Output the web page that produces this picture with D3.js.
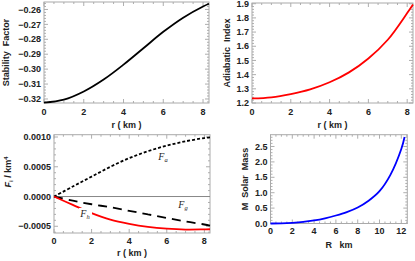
<!DOCTYPE html>
<html>
<head>
<meta charset="utf-8">
<script src="https://cdn.jsdelivr.net/npm/d3@7"></script>
<style>
  body { margin: 0; background: #fff; }
  svg text { font-family: "Liberation Sans", Arial, sans-serif; font-weight: bold; fill: #222; }
  .frame { fill: none; stroke: #aaa; stroke-width: 1; }
  .tick { stroke: #999; stroke-width: 0.8; }
</style>
</head>
<body>
<svg id="chart" width="415" height="261"></svg>
<script>
// Data
var rStab    = [0, 1, 2, 3, 4, 5, 6, 7, 8, 8.3];
var stab     = [-0.3225, -0.3205, -0.3150, -0.3070, -0.2970, -0.2860, -0.2750, -0.2655, -0.2580, -0.2562];

var rAdi     = [0, 1, 2, 3, 4, 5, 6, 7, 8, 8.3];
var adiabatic = [1.232, 1.24, 1.263, 1.296, 1.346, 1.416, 1.514, 1.646, 1.834, 1.895];

var rForce   = [0, 1, 2, 3, 4, 5, 6, 7, 8, 8.3];
var forceA   = [0, 0.000168, 0.000335, 0.0005, 0.000645, 0.000762, 0.000855, 0.000928, 0.000983, 0.000995];
var forceG   = [0, -0.00007, -0.00013, -0.00018, -0.00024, -0.0003, -0.00036, -0.00042, -0.00047, -0.00049];
var forceH   = [0, -0.00014, -0.00028, -0.00039, -0.00046, -0.00051, -0.00054, -0.000555, -0.000552, -0.00055];

var radius   = [0, 1, 2, 3, 4, 5, 6, 7, 8, 9, 10, 11, 12, 12.3];
var mass     = [0, 0.003, 0.02, 0.05, 0.1, 0.17, 0.26, 0.37, 0.52, 0.74, 1.05, 1.58, 2.42, 2.81];

var svg = d3.select("#chart");

function panel(opt) {
  var x = d3.scaleLinear().domain(opt.xDomain).range(opt.xRange);
  var y = d3.scaleLinear().domain(opt.yDomain).range(opt.yRange);
  var g = svg.append("g");

  // ticks on all four sides, pointing inward
  var x0 = opt.xRange[0], x1 = opt.xRange[1], y0 = opt.yRange[0], y1 = opt.yRange[1];
  d3.range(opt.xDomain[0], opt.xDomain[1] + 1e-9, opt.xMinor).forEach(function (v) {
    var major = Math.abs(v / opt.xMajor - Math.round(v / opt.xMajor)) < 1e-6;
    var len = major ? 4 : 2;
    g.append("line").attr("class", "tick").attr("x1", x(v)).attr("x2", x(v)).attr("y1", y0).attr("y2", y0 - len);
    g.append("line").attr("class", "tick").attr("x1", x(v)).attr("x2", x(v)).attr("y1", y1).attr("y2", y1 + len);
  });
  var ys = Math.ceil(opt.yDomain[0] / opt.yMinor - 1e-6);
  var ye = Math.floor(opt.yDomain[1] / opt.yMinor + 1e-6);
  for (var i = ys; i <= ye; i++) {
    var v = i * opt.yMinor;
    var major = Math.abs(v / opt.yMajor - Math.round(v / opt.yMajor)) < 1e-6;
    var len = major ? 4 : 2;
    g.append("line").attr("class", "tick").attr("y1", y(v)).attr("y2", y(v)).attr("x1", x0).attr("x2", x0 + len);
    g.append("line").attr("class", "tick").attr("y1", y(v)).attr("y2", y(v)).attr("x1", x1).attr("x2", x1 - len);
  }

  g.append("rect").attr("class", "frame")
    .attr("x", x0).attr("y", y1).attr("width", x1 - x0).attr("height", y0 - y1);

  // tick labels
  g.selectAll(".xl").data(opt.xTicks).enter().append("text")
    .attr("x", function (d) { return x(d); }).attr("y", y0 + opt.xLabelDy)
    .attr("text-anchor", "middle").attr("font-size", 9)
    .text(function (d) { return d; });
  g.selectAll(".yl").data(opt.yTicks).enter().append("text")
    .attr("x", x0 - 3).attr("y", function (d) { return y(d) + 3.2; })
    .attr("text-anchor", "end").attr("font-size", 9)
    .text(opt.yFormat);

  // axis titles
  g.append("text").attr("x", (x0 + x1) / 2).attr("y", opt.xTitleY)
    .attr("text-anchor", "middle").attr("font-size", 9)
    .attr("xml:space", "preserve").text(opt.xTitle);
  var yt = g.append("text")
    .attr("transform", "translate(" + opt.yTitleX + "," + (opt.yTitleCy || (y0 + y1) / 2) + ") rotate(-90)")
    .attr("text-anchor", "middle").attr("font-size", 9)
    .attr("xml:space", "preserve");
  if (typeof opt.yTitle === "function") opt.yTitle(yt); else yt.text(opt.yTitle);

  return { g: g, x: x, y: y };
}

function minus(fmt) {
  return function (d) { return fmt(d).replace("-", "\u2212"); };
}

function curve(p, xs, ys, color, width, dash) {
  var pts = xs.map(function (v, i) { return [v, ys[i]]; });
  var line = d3.line()
    .x(function (d) { return p.x(d[0]); })
    .y(function (d) { return p.y(d[1]); })
    .curve(d3.curveCatmullRom.alpha(0.5));
  var path = p.g.append("path").datum(pts)
    .attr("d", line).attr("fill", "none")
    .attr("stroke", color).attr("stroke-width", width);
  if (dash) path.attr("stroke-dasharray", dash);
  return path;
}

function flabel(p, sub, cx, cy) {
  var t = p.g.append("text").attr("x", cx).attr("y", cy)
    .attr("text-anchor", "middle")
    .style("font-family", "'Liberation Serif', 'DejaVu Serif', serif")
    .style("font-weight", "normal").style("font-style", "italic")
    .attr("font-size", 10);
  t.append("tspan").text("F");
  t.append("tspan").attr("font-size", 6.5).attr("dy", 2).text(sub);
  return t;
}

// Stability factor
var p1 = panel({
  xDomain: [0, 8.3], xRange: [44, 209], yDomain: [-0.3227, -0.2550], yRange: [103, 2],
  xMajor: 2, xMinor: 0.5, yMajor: 0.01, yMinor: 0.002,
  xTicks: [0, 2, 4, 6, 8], yTicks: [-0.32, -0.31, -0.30, -0.29, -0.28, -0.27, -0.26],
  yFormat: minus(d3.format(".2f")), xLabelDy: 12, xTitle: "r ( km )", xTitleY: 128,
  yTitle: "Stability  Factor", yTitleX: 9
});
curve(p1, rStab, stab, "#000", 1.8);

// Adiabatic index
var p2 = panel({
  xDomain: [0, 8.3], xRange: [252, 413], yDomain: [1.2, 1.905], yRange: [103, 3],
  xMajor: 2, xMinor: 0.5, yMajor: 0.1, yMinor: 0.02,
  xTicks: [0, 2, 4, 6, 8], yTicks: [1.2, 1.3, 1.4, 1.5, 1.6, 1.7, 1.8, 1.9],
  yFormat: d3.format(".1f"), xLabelDy: 12, xTitle: "r ( km )", xTitleY: 128,
  yTitle: "Adiabatic  Index", yTitleX: 230
});
curve(p2, rAdi, adiabatic, "#f00", 1.8);

// Forces
var p3 = panel({
  xDomain: [0, 8.3], xRange: [54, 210], yDomain: [-0.000613, 0.001039], yRange: [233, 134.7],
  xMajor: 2, xMinor: 0.5, yMajor: 0.0005, yMinor: 0.0001,
  xTicks: [0, 2, 4, 6, 8], yTicks: [-0.0005, 0, 0.0005, 0.001],
  yFormat: minus(d3.format(".4f")), xLabelDy: 10.5, xTitle: "r ( km )", xTitleY: 256,
  yTitle: function (t) {
    t.append("tspan").style("font-style", "italic").text("F");
    t.append("tspan").attr("font-size", 6).attr("dy", 2).text("i");
    t.append("tspan").attr("dy", -2).text(" / km");
    t.append("tspan").attr("font-size", 6).attr("dy", -3).text("4");
  },
  yTitleX: 11, yTitleCy: 172
});
p3.g.append("line")
  .attr("x1", p3.x(0)).attr("x2", p3.x(8.3))
  .attr("y1", p3.y(0)).attr("y2", p3.y(0))
  .attr("stroke", "#888").attr("stroke-width", 1);
curve(p3, rForce, forceA, "#000", 1.8, "3,2");
curve(p3, rForce, forceG, "#000", 1.8, "9,6");
curve(p3, rForce, forceH, "#f00", 1.8);
p3.g.append("rect").attr("x", 79).attr("y", 208).attr("width", 13).attr("height", 11).attr("fill", "#fff");
flabel(p3, "a", 163, 160);
flabel(p3, "g", 183, 208);
flabel(p3, "h", 85, 217);

// Mass
var p4 = panel({
  xDomain: [0, 12.55], xRange: [270.5, 407.3], yDomain: [0, 2.883], yRange: [223.5, 134.7],
  xMajor: 2, xMinor: 0.5, yMajor: 0.5, yMinor: 0.1,
  xTicks: [0, 2, 4, 6, 8, 10, 12], yTicks: [0, 0.5, 1, 1.5, 2, 2.5],
  yFormat: d3.format(".1f"), xLabelDy: 10.5, xTitle: "R   km", xTitleY: 248,
  yTitle: "M  Solar  Mass", yTitleX: 248
});
curve(p4, radius, mass, "#00f", 1.8);
</script>
</body>
</html>
